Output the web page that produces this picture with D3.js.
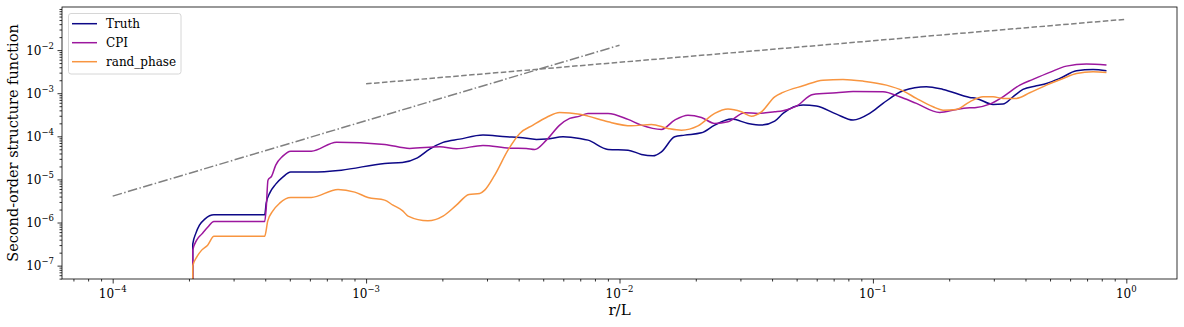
<!DOCTYPE html>
<html>
<head>
<meta charset="utf-8">
<script src="https://cdn.jsdelivr.net/npm/d3@7"></script>
<style>
  body { margin: 0; background: #fff; }
  text { font-family: "DejaVu Serif", serif; fill: #000; }
</style>
</head>
<body>
<div id="chart"></div>
<script>
// Second-order structure function vs r/L (log-log)
// values, pairs are [r/L, S2]

var seriesNames = ['Truth', 'CPI', 'rand_phase'];
var seriesColors = ['#0d0887', '#9c179e', '#f89540'];

// first point sits below the axis (value 0 in the original), clipped by the plot box
var truth = [
  [2.07e-4, 1e-9], [2.07e-4, 3.15e-7], [2.13e-4, 5.68e-7], [2.20e-4, 8.7e-7], [2.31e-4, 1.2e-6],
  [2.51e-4, 1.51e-6], [3.98e-4, 1.51e-6], [4.035e-4, 2.82e-6], [4.165e-4, 4.81e-6], [4.40e-4, 7.78e-6],
  [4.69e-4, 1.13e-5], [5.04e-4, 1.48e-5], [6.08e-4, 1.48e-5], [7.99e-4, 1.64e-5], [1.184e-3, 2.35e-5],
  [1.391e-3, 2.48e-5], [1.594e-3, 3.17e-5], [1.782e-3, 5.05e-5], [2.012e-3, 7.22e-5], [2.341e-3, 8.61e-5],
  [2.893e-3, 1.066e-4], [3.579e-3, 9.74e-5], [4.04e-3, 9.43e-5], [4.70e-3, 8.48e-5], [5.146e-3, 8.61e-5],
  [5.985e-3, 9.74e-5], [6.966e-3, 8.94e-5], [7.51e-3, 8.16e-5], [9.01e-3, 4.97e-5], [1.081e-2, 4.78e-5],
  [1.22e-2, 3.80e-5], [1.356e-2, 3.53e-5], [1.464e-2, 4.37e-5], [1.651e-2, 9.74e-5], [1.808e-2, 1.066e-4],
  [2.105e-2, 1.206e-4], [2.375e-2, 1.82e-4], [2.764e-2, 2.51e-4], [3.214e-2, 1.99e-4], [3.631e-2, 1.82e-4],
  [4.097e-2, 2.25e-4], [4.418e-2, 3.4e-4], [5.30e-2, 5.30e-4], [5.98e-2, 5.02e-4], [7.18e-2, 3.27e-4],
  [8.35e-2, 2.38e-4], [9.71e-2, 3.4e-4], [0.1096, 5.8e-4], [0.1315, 1.137e-3], [0.1626, 1.408e-3],
  [0.1891, 1.225e-3], [0.241, 8.0e-4], [0.256, 7.57e-4], [0.298, 5.5e-4], [0.326, 5.59e-4],
  [0.357, 8.25e-4], [0.391, 1.225e-3], [0.442, 1.485e-3], [0.484, 1.688e-3], [0.546, 2.2e-3],
  [0.636, 3.31e-3], [0.739, 3.565e-3], [0.835, 3.31e-3]
];

var cpi = [
  [2.07e-4, 1e-9], [2.07e-4, 2.29e-7], [2.145e-4, 3.9e-7], [2.245e-4, 5.38e-7], [2.37e-4, 7.8e-7],
  [2.51e-4, 1.06e-6], [3.98e-4, 1.06e-6], [4.035e-4, 2.16e-6], [4.10e-4, 9.6e-6], [4.24e-4, 1.19e-5],
  [4.40e-4, 2.15e-5], [4.69e-4, 3.47e-5], [5.04e-4, 4.53e-5], [6.08e-4, 4.53e-5], [7.64e-4, 7.33e-5],
  [1.184e-3, 6.49e-5], [1.486e-3, 5.24e-5], [1.952e-3, 5.71e-5], [2.272e-3, 5.13e-5], [2.893e-3, 6.15e-5],
  [3.687e-3, 5.32e-5], [4.29e-3, 5.24e-5], [4.628e-3, 4.97e-5], [5.146e-3, 8.16e-5], [5.808e-3, 1.82e-4],
  [6.36e-3, 2.6e-4], [6.966e-3, 2.94e-4], [7.51e-3, 3.4e-4], [9.01e-3, 3.4e-4], [1.081e-2, 2.47e-4],
  [1.22e-2, 1.82e-4], [1.464e-2, 1.445e-4], [1.651e-2, 2.38e-4], [1.863e-2, 3.1e-4], [2.105e-2, 2.74e-4],
  [2.375e-2, 1.99e-4], [2.68e-2, 2.17e-4], [3.12e-2, 3.51e-4], [3.52e-2, 3.4e-4], [4.097e-2, 3.7e-4],
  [4.418e-2, 3.9e-4], [4.99e-2, 5.02e-4], [5.80e-2, 9.38e-4], [7.18e-2, 1.022e-3], [8.35e-2, 1.10e-3],
  [0.1096, 1.078e-3], [0.1276, 8.25e-4], [0.1485, 5.8e-4], [0.1835, 3.58e-4], [0.2137, 4.21e-4],
  [0.241, 4.585e-4], [0.256, 4.68e-4], [0.289, 5.59e-4], [0.326, 8.25e-4], [0.38, 1.54e-3],
  [0.428, 2.09e-3], [0.4985, 3.04e-3], [0.58, 4.25e-3], [0.696, 4.73e-3], [0.835, 4.49e-3]
];

var randPhase = [
  [2.07e-4, 1e-9], [2.07e-4, 9.9e-8], [2.145e-4, 1.575e-7], [2.245e-4, 2.29e-7], [2.37e-4, 2.99e-7],
  [2.51e-4, 4.8e-7], [3.98e-4, 4.8e-7], [4.09e-4, 1.08e-6], [4.28e-4, 1.84e-6], [4.56e-4, 2.82e-6],
  [5.04e-4, 3.82e-6], [6.08e-4, 3.82e-6], [7.75e-4, 5.86e-6], [9.02e-4, 5.07e-6], [1.017e-3, 3.82e-6],
  [1.184e-3, 3.31e-6], [1.277e-3, 2.53e-6], [1.395e-3, 1.87e-6], [1.464e-3, 1.41e-6], [1.755e-3, 1.095e-6],
  [2.012e-3, 1.41e-6], [2.272e-3, 2.53e-6], [2.547e-3, 4.49e-6], [2.808e-3, 4.73e-6], [2.938e-3, 5.64e-6],
  [3.218e-3, 1.259e-5], [3.63e-3, 4.78e-5], [4.04e-3, 1.168e-4], [4.557e-3, 1.82e-4], [5.146e-3, 2.74e-4],
  [5.808e-3, 3.58e-4], [6.966e-3, 3.27e-4], [7.51e-3, 2.94e-4], [9.01e-3, 2.17e-4], [1.114e-2, 1.75e-4],
  [1.336e-2, 1.89e-4], [1.554e-2, 1.525e-4], [1.755e-2, 1.39e-4], [2.04e-2, 1.75e-4], [2.375e-2, 3.4e-4],
  [2.68e-2, 4.28e-4], [3.027e-2, 3.7e-4], [3.315e-2, 2.94e-4], [3.631e-2, 3.7e-4], [4.097e-2, 8.25e-4],
  [4.418e-2, 1.044e-3], [5.30e-2, 1.485e-3], [6.355e-2, 2.01e-3], [7.62e-2, 2.09e-3], [9.14e-2, 1.91e-3],
  [0.113, 1.54e-3], [0.1315, 1.137e-3], [0.1485, 7.57e-4], [0.1727, 4.835e-4], [0.1891, 4.05e-4],
  [0.2137, 4.21e-4], [0.241, 6.32e-4], [0.272, 8.25e-4], [0.298, 8.25e-4], [0.326, 7.57e-4],
  [0.368, 7.57e-4], [0.4156, 1.022e-3], [0.484, 1.54e-3], [0.563, 2.2e-3], [0.636, 2.88e-3],
  [0.739, 3.135e-3], [0.835, 3.04e-3]
];

// reference slopes (grey)
var dashDotRef = [[1e-4, 4.1e-6], [1e-2, 1.3e-2]];
var dashedRef = [[1e-3, 1.65e-3], [1, 5.2e-2]];

var xMajor = [1e-4, 1e-3, 1e-2, 1e-1, 1];
var yMajor = [1e-7, 1e-6, 1e-5, 1e-4, 1e-3, 1e-2];
var xExp = ['\u22124', '\u22123', '\u22122', '\u22121', '0'];
var yExp = ['\u22127', '\u22126', '\u22125', '\u22124', '\u22123', '\u22122'];

var width = 1184, height = 327;
var plot = {left: 62, right: 1177, top: 7, bottom: 279};

var svg = d3.select('#chart').append('svg')
  .attr('width', width)
  .attr('height', height);

var x = d3.scaleLog()
  .domain([Math.pow(10, -4.2), Math.pow(10, 0.2)])
  .range([plot.left, plot.right]);
var y = d3.scaleLog()
  .domain([Math.pow(10, -7.31), Math.pow(10, -1.0)])
  .range([plot.bottom, plot.top]);

// minor ticks: 2..9 within each decade inside the domain
function minorTicks(scale) {
  var d = scale.domain(), out = [];
  var lo = Math.floor(Math.log10(d[0])), hi = Math.ceil(Math.log10(d[1]));
  for (var e = lo; e <= hi; e++) {
    for (var m = 2; m <= 9; m++) {
      var v = m * Math.pow(10, e);
      if (v >= d[0] && v <= d[1]) out.push(v);
    }
  }
  return out;
}

svg.append('defs').append('clipPath').attr('id', 'plotclip')
  .append('rect')
  .attr('x', plot.left).attr('y', plot.top)
  .attr('width', plot.right - plot.left)
  .attr('height', plot.bottom - plot.top);

var line = d3.line()
  .x(d => x(d[0]))
  .y(d => y(d[1]));

var smooth = d3.line()
  .x(d => x(d[0]))
  .y(d => y(d[1]))
  .curve(d3.curveMonotoneX);

var g = svg.append('g').attr('clip-path', 'url(#plotclip)');

g.append('path')
  .attr('d', line(dashDotRef))
  .attr('fill', 'none')
  .attr('stroke', 'grey')
  .attr('stroke-width', 1.5)
  .attr('stroke-dasharray', '9.6,2.4,1.5,2.4');

g.append('path')
  .attr('d', line(dashedRef))
  .attr('fill', 'none')
  .attr('stroke', 'grey')
  .attr('stroke-width', 1.5)
  .attr('stroke-dasharray', '5.55,2.4');

[truth, cpi, randPhase].forEach(function(s, i) {
  g.append('path')
    .attr('d', smooth(s))
    .attr('fill', 'none')
    .attr('stroke', seriesColors[i])
    .attr('stroke-width', 1.5)
    .attr('stroke-linejoin', 'round');
});

// axes
var xAxis = svg.append('g')
  .attr('transform', `translate(0, ${plot.bottom})`)
  .call(d3.axisBottom(x).tickValues(xMajor).tickSize(4.5).tickFormat(''));
var xAxisMinor = svg.append('g')
  .attr('transform', `translate(0, ${plot.bottom})`)
  .call(d3.axisBottom(x).tickValues(minorTicks(x)).tickSize(2.5).tickFormat(''));
var yAxis = svg.append('g')
  .attr('transform', `translate(${plot.left}, 0)`)
  .call(d3.axisLeft(y).tickValues(yMajor).tickSize(4.5).tickFormat(''));
var yAxisMinor = svg.append('g')
  .attr('transform', `translate(${plot.left}, 0)`)
  .call(d3.axisLeft(y).tickValues(minorTicks(y)).tickSize(2.5).tickFormat(''));

[xAxis, xAxisMinor, yAxis, yAxisMinor].forEach(function(a) {
  a.select('.domain').remove();
  a.selectAll('line').attr('stroke', '#000').attr('stroke-width', 0.8);
});

// tick labels as 10^n
xMajor.forEach(function(v, i) {
  var t = svg.append('text')
    .attr('x', x(v))
    .attr('y', plot.bottom + 19)
    .attr('text-anchor', 'middle')
    .attr('font-size', '12px');
  t.append('tspan').text('10');
  t.append('tspan').attr('dy', -6).attr('font-size', '8.5px').text(xExp[i]);
});

yMajor.forEach(function(v, i) {
  var t = svg.append('text')
    .attr('x', plot.left - 8)
    .attr('y', y(v) + 4.5)
    .attr('text-anchor', 'end')
    .attr('font-size', '12px');
  t.append('tspan').text('10');
  t.append('tspan').attr('dy', -6).attr('font-size', '8.5px').text(yExp[i]);
});

// frame
svg.append('rect')
  .attr('x', plot.left).attr('y', plot.top)
  .attr('width', plot.right - plot.left)
  .attr('height', plot.bottom - plot.top)
  .attr('fill', 'none')
  .attr('stroke', '#000')
  .attr('stroke-width', 0.8);

// axis titles
svg.append('text')
  .attr('x', (plot.left + plot.right) / 2)
  .attr('y', 315)
  .attr('text-anchor', 'middle')
  .attr('font-size', '15px')
  .text('r/L');

svg.append('text')
  .attr('transform', `translate(18, ${(plot.top + plot.bottom) / 2}) rotate(-90)`)
  .attr('text-anchor', 'middle')
  .attr('font-size', '14.5px')
  .text('Second-order structure function');

// legend
var legend = svg.append('g').attr('transform', 'translate(68.5, 13.5)');
legend.append('rect')
  .attr('width', 112.5).attr('height', 60.5)
  .attr('rx', 2.5)
  .attr('fill', '#fff').attr('fill-opacity', 0.8)
  .attr('stroke', '#ccc').attr('stroke-width', 0.8);

seriesNames.forEach(function(name, i) {
  var yy = 10.2 + i * 19;
  legend.append('line')
    .attr('x1', 3.5).attr('x2', 28.5)
    .attr('y1', yy).attr('y2', yy)
    .attr('stroke', seriesColors[i])
    .attr('stroke-width', 1.5);
  legend.append('text')
    .attr('x', 37.5).attr('y', yy + 4.3)
    .attr('font-size', '12px')
    .text(name);
});
</script>
</body>
</html>
